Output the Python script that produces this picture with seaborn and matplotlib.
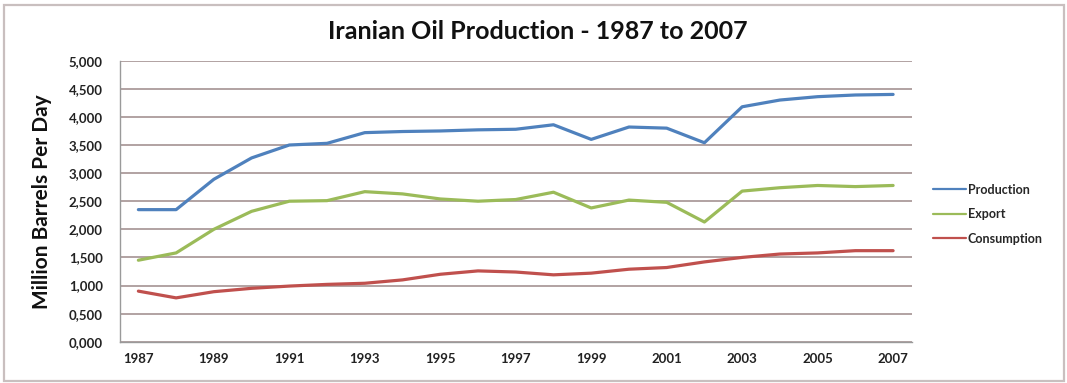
import matplotlib
matplotlib.use("Agg")
import matplotlib.pyplot as plt
from matplotlib.patches import Rectangle
from matplotlib.ticker import FuncFormatter, FixedLocator
import seaborn as sns
import pandas as pd

years = list(range(1987, 2008))
production = [2350, 2350, 2890, 3270, 3500, 3530, 3720, 3740, 3750, 3770, 3780,
              3860, 3600, 3820, 3800, 3540, 4180, 4300, 4360, 4390, 4400]
export = [1450, 1580, 2000, 2320, 2500, 2510, 2670, 2630, 2540, 2500, 2530,
          2660, 2380, 2520, 2480, 2130, 2680, 2740, 2780, 2760, 2780]
consumption = [900, 780, 890, 950, 990, 1020, 1040, 1100, 1200, 1260, 1240,
               1190, 1220, 1290, 1320, 1420, 1500, 1560, 1580, 1620, 1620]
series_names = ["Production", "Export", "Consumption"]
colors = ["#4F81BD", "#9BBB59", "#C0504D"]
year_ticks = list(range(1987, 2008, 2))
y_ticks = list(range(0, 5001, 500))

df = pd.DataFrame({
    "Year": years * 3,
    "Value": production + export + consumption,
    "Series": [n for n in series_names for _ in years],
})

sns.set_style("white")
plt.rcParams["font.family"] = ["Lato", "DejaVu Sans"]
plt.rcParams["font.weight"] = "bold"

fig = plt.figure(figsize=(10.67, 3.83), dpi=100)
ax = fig.add_axes([0.112, 0.1078, 0.7427, 0.7337])

# outer chart frame
fig.patches.append(Rectangle((0.004, 0.005), 0.993, 0.982, transform=fig.transFigure,
                             fill=False, edgecolor="#C9BFBF", linewidth=1.6))

sns.lineplot(data=df, x="Year", y="Value", hue="Series", hue_order=series_names,
             palette=colors, linewidth=2.3, ax=ax, legend=True)

ax.set_xlim(1986.5, 2007.5)
ax.set_ylim(0, 5000)
ax.yaxis.set_major_locator(FixedLocator(y_ticks))
ax.yaxis.set_major_formatter(FuncFormatter(lambda v, p: f"{v / 1000:.3f}".replace(".", ",")))
ax.xaxis.set_major_locator(FixedLocator(year_ticks))
ax.grid(axis="y", color="#A49292", linewidth=1.2)
ax.grid(axis="x", visible=False)
for s in ["top", "right"]:
    ax.spines[s].set_visible(False)
ax.spines["left"].set_color("#9A9A9A")
ax.spines["bottom"].set_color("#9A9A9A")
ax.spines["left"].set_linewidth(1.0)
ax.spines["bottom"].set_linewidth(1.0)
ax.tick_params(axis="y", which="major", length=3, color="#9A9A9A", labelsize=9.5, pad=9)
ax.tick_params(axis="x", which="major", length=0, labelsize=9.5, pad=8)
for lbl in ax.get_xticklabels() + ax.get_yticklabels():
    lbl.set_fontweight("bold")
    lbl.set_color("#222222")

ax.set_xlabel("")
ax.set_ylabel("Million Barrels Per Day", fontsize=15, fontweight="bold", labelpad=12,
              color="#111111")

fig.text(0.504, 0.918, "Iranian Oil Production - 1987 to 2007", ha="center", va="center",
         fontsize=18, fontweight="bold", color="#111111")

leg = ax.legend(loc="center left", bbox_to_anchor=(1.012, 0.454), frameon=False,
                fontsize=9, handlelength=2.7, handletextpad=0.1, labelspacing=1.0)
for t in leg.get_texts():
    t.set_fontweight("bold")
for h in leg.legend_handles:
    h.set_linewidth(1.6)

fig.savefig("out.png", dpi=100)
